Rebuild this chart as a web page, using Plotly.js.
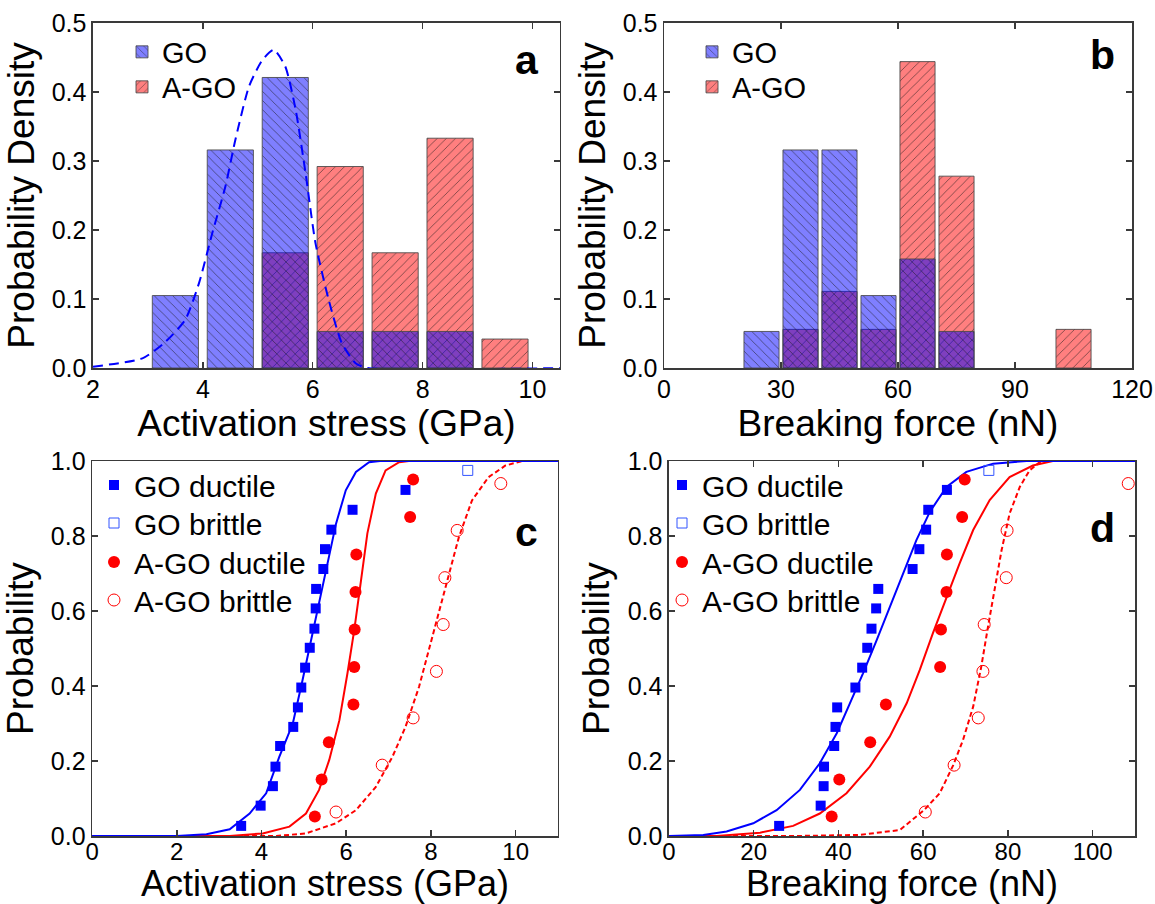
<!DOCTYPE html>
<html>
<head>
<meta charset="utf-8">
<script src="https://cdn.plot.ly/plotly-3.0.1.min.js"></script>
<style>html,body{margin:0;padding:0;background:#fff;}#chart{width:1155px;height:904px;}</style>
</head>
<body>
<div id="chart"></div>
<script>
// ---------- Panel a: histogram of activation stress ----------
const aGO_x = [3.5, 4.5, 5.5, 6.5, 7.5, 8.5];
const aGO_y = [0.105, 0.316, 0.421, 0.053, 0.053, 0.053];
const aAGO_x = [5.5, 6.5, 7.5, 8.5, 9.5];
const aAGO_y = [0.167, 0.292, 0.167, 0.333, 0.042];
const aFit_x = [2.0, 2.90, 3.32, 3.68, 3.93, 4.17, 4.41, 4.59, 4.84, 5.08, 5.29, 5.50, 5.69, 5.87, 6.05, 6.29, 6.53, 6.78, 7.0, 10.5];
const aFit_y = [0.002, 0.014, 0.038, 0.070, 0.123, 0.195, 0.263, 0.330, 0.408, 0.446, 0.461, 0.437, 0.374, 0.282, 0.181, 0.099, 0.036, 0.007, 0, 0];

// ---------- Panel b: histogram of breaking force ----------
const bGO_x = [25, 35, 45, 55, 65, 75];
const bGO_y = [0.053, 0.316, 0.316, 0.105, 0.158, 0.053];
const bAGO_x = [35, 45, 55, 65, 75, 105];
const bAGO_y = [0.056, 0.111, 0.056, 0.444, 0.278, 0.056];

// ---------- Panel c: cumulative probability vs activation stress ----------
const probGO = [0.027, 0.081, 0.133, 0.185, 0.240, 0.291, 0.343, 0.396, 0.449, 0.502, 0.553, 0.607, 0.659, 0.712, 0.765, 0.817, 0.870, 0.923];
const probGOb = [0.975];
const probAGO = [0.052, 0.151, 0.250, 0.351, 0.451, 0.551, 0.651, 0.751, 0.851, 0.951];
const probAGOb = [0.064, 0.189, 0.315, 0.439, 0.564, 0.689, 0.815, 0.940];

const cGOd_x = [3.52, 3.98, 4.27, 4.33, 4.44, 4.75, 4.86, 4.94, 5.03, 5.14, 5.25, 5.28, 5.29, 5.46, 5.50, 5.65, 6.15, 7.40];
const cGOb_x = [8.87];
const cAGOd_x = [5.26, 5.42, 5.59, 6.17, 6.19, 6.20, 6.22, 6.24, 7.51, 7.58];
const cAGOb_x = [5.76, 6.85, 7.58, 8.13, 8.29, 8.33, 8.62, 9.65];

const cFitGO_x = [0, 2.0, 2.70, 3.25, 3.72, 4.11, 4.42, 4.74, 4.97, 5.17, 5.36, 5.56, 5.76, 5.99, 6.23, 6.54, 6.8, 11];
const cFitGO_y = [0, 0, 0.005, 0.018, 0.060, 0.114, 0.211, 0.300, 0.416, 0.522, 0.629, 0.735, 0.833, 0.922, 0.971, 0.997, 1, 1];
const cFitAGO_x = [0, 3.25, 4.03, 4.66, 5.05, 5.36, 5.60, 5.84, 6.03, 6.19, 6.35, 6.50, 6.70, 6.93, 7.25, 7.48, 11];
const cFitAGO_y = [0, 0, 0.007, 0.025, 0.060, 0.123, 0.203, 0.309, 0.434, 0.549, 0.682, 0.807, 0.913, 0.975, 0.997, 1, 1];
const cFitAGOb_x = [0, 4.35, 5.05, 5.76, 6.23, 6.70, 7.09, 7.40, 7.72, 8.03, 8.35, 8.66, 8.97, 9.36, 9.76, 10.15, 11];
const cFitAGOb_y = [0, 0, 0.007, 0.034, 0.069, 0.131, 0.211, 0.291, 0.398, 0.531, 0.664, 0.797, 0.895, 0.957, 0.988, 1, 1];

// ---------- Panel d: cumulative probability vs breaking force ----------
const dGOd_x = [26.0, 35.8, 36.5, 36.6, 39.0, 39.3, 39.7, 44.0, 45.6, 46.8, 47.8, 48.9, 49.4, 57.5, 59.1, 60.7, 61.2, 65.6];
const dGOb_x = [75.5];
const dAGOd_x = [38.4, 40.2, 47.5, 51.2, 64.0, 64.2, 65.5, 65.6, 69.2, 69.8];
const dAGOb_x = [60.5, 67.3, 73.0, 74.1, 74.4, 79.6, 79.8, 108.4];

const dFitGO_x = [0, 5, 8.1, 13.6, 19.9, 25.4, 30.9, 35.6, 39.6, 42.7, 45.8, 49.0, 52.1, 55.3, 58.4, 61.6, 65.5, 70.2, 76.5, 84.4, 110];
const dFitGO_y = [0, 0.001, 0.003, 0.012, 0.034, 0.069, 0.123, 0.194, 0.274, 0.354, 0.434, 0.522, 0.611, 0.700, 0.789, 0.865, 0.931, 0.971, 0.993, 1, 1];
const dFitAGO_x = [0, 11.2, 21.5, 29.3, 35.6, 41.9, 47.4, 52.1, 56.1, 59.2, 62.3, 65.5, 68.6, 71.8, 75.7, 80.4, 85.9, 90.6, 110];
const dFitAGO_y = [0, 0, 0.009, 0.027, 0.060, 0.114, 0.185, 0.265, 0.354, 0.443, 0.541, 0.638, 0.727, 0.816, 0.896, 0.957, 0.988, 1, 1];
const dFitAGOb_x = [0, 30, 45.0, 54.5, 60.2, 63.9, 67.1, 69.4, 71.8, 73.7, 75.3, 76.9, 78.5, 80.4, 82.8, 85.1, 87.5, 89.1, 110];
const dFitAGOb_y = [0, 0, 0.003, 0.016, 0.069, 0.114, 0.189, 0.256, 0.345, 0.451, 0.558, 0.665, 0.762, 0.860, 0.931, 0.975, 0.997, 1, 1];

// ---------- styles ----------
const FONT = 'Liberation Sans, Arial, Helvetica, sans-serif';
const BLUE = '#0000ff', RED = '#ff0000';
const goFill = 'rgba(0,0,255,0.5)', agoFill = 'rgba(255,0,0,0.5)';
const barLine = {color: 'rgba(70,70,70,0.85)', width: 1};
function pat(shape, bg) {
  return {shape: shape, fillmode: 'replace', bgcolor: bg, fgcolor: '#1a1a1a', fgopacity: 0.6, size: 6.5, solidity: 0.13};
}

function bars(x, y, name, fill, shape, width, xa, ya, leg) {
  return {type: 'bar', x: x, y: y, width: width, name: name, xaxis: xa, yaxis: ya, legend: leg,
    marker: {color: fill, line: barLine, pattern: pat(shape, fill)}, hoverinfo: 'skip'};
}
function line(x, y, color, dash, xa, ya, extra) {
  return {type: 'scatter', mode: 'lines', x: x, y: y, xaxis: xa, yaxis: ya, showlegend: false,
    line: Object.assign({color: color, width: 2, dash: dash}, extra || {}), hoverinfo: 'skip'};
}
function pts(x, y, name, symbol, color, size, xa, ya, leg, lw) {
  return {type: 'scatter', mode: 'markers', x: x, y: y, name: name, xaxis: xa, yaxis: ya, legend: leg,
    marker: {symbol: symbol, color: color, size: size, line: {color: color, width: lw}}, hoverinfo: 'skip'};
}

const data = [
  // panel a
  bars(aAGO_x, aAGO_y, 'A-GO', agoFill, '/', 0.84, 'x', 'y', 'legend2'),
  bars(aGO_x, aGO_y, 'GO', goFill, '\\', 0.84, 'x', 'y', 'legend'),
  line(aFit_x, aFit_y, BLUE, '10px,6px', 'x', 'y', {shape: 'spline', smoothing: 0.6}),
  // panel b
  bars(bAGO_x, bAGO_y, 'A-GO', agoFill, '/', 9, 'x2', 'y2', 'legend4'),
  bars(bGO_x, bGO_y, 'GO', goFill, '\\', 9, 'x2', 'y2', 'legend3'),
  // panel c
  line(cFitAGOb_x, cFitAGOb_y, RED, '5px,3px', 'x3', 'y3'),
  line(cFitAGO_x, cFitAGO_y, RED, 'solid', 'x3', 'y3'),
  line(cFitGO_x, cFitGO_y, BLUE, 'solid', 'x3', 'y3'),
  pts(cGOd_x, probGO, 'GO ductile', 'square', BLUE, 10, 'x3', 'y3', 'legend5', 0),
  pts(cGOb_x, probGOb, 'GO brittle', 'square-open', '#3355ff', 10, 'x3', 'y3', 'legend6', 1),
  pts(cAGOd_x, probAGO, 'A-GO ductile', 'circle', RED, 12, 'x3', 'y3', 'legend7', 0),
  pts(cAGOb_x, probAGOb, 'A-GO brittle', 'circle-open', RED, 12, 'x3', 'y3', 'legend8', 1),
  // panel d
  line(dFitAGOb_x, dFitAGOb_y, RED, '5px,3px', 'x4', 'y4'),
  line(dFitAGO_x, dFitAGO_y, RED, 'solid', 'x4', 'y4'),
  line(dFitGO_x, dFitGO_y, BLUE, 'solid', 'x4', 'y4'),
  pts(dGOd_x, probGO, 'GO ductile', 'square', BLUE, 10, 'x4', 'y4', 'legend9', 0),
  pts(dGOb_x, probGOb, 'GO brittle', 'square-open', '#3355ff', 10, 'x4', 'y4', 'legend10', 1),
  pts(dAGOd_x, probAGO, 'A-GO ductile', 'circle', RED, 12, 'x4', 'y4', 'legend11', 0),
  pts(dAGOb_x, probAGOb, 'A-GO brittle', 'circle-open', RED, 12, 'x4', 'y4', 'legend12', 1)
];

const AX = '#3a3a3a';
function xax(domain, range, dtick, anchor, title, mirror, standoff, tls, tsize, ttsize) {
  return {domain: domain, range: range, dtick: dtick, tick0: 0, anchor: anchor,
    ticks: 'inside', ticklen: 6, tickwidth: 1.5, tickcolor: AX, mirror: mirror,
    showline: true, linecolor: AX, linewidth: 1.5, showgrid: false, zeroline: false,
    ticklabelstandoff: tls,
    tickfont: {family: FONT, size: tsize, color: '#000'},
    title: {text: title, font: {family: FONT, size: ttsize, color: '#000'}, standoff: standoff}};
}
function yax(domain, range, dtick, anchor, title, mirror) {
  return {domain: domain, range: range, dtick: dtick, tick0: 0, anchor: anchor, tickformat: '.1f',
    ticks: 'inside', ticklen: 6, tickwidth: 1.5, tickcolor: AX, mirror: mirror,
    showline: true, linecolor: AX, linewidth: 1.5, showgrid: false, zeroline: false,
    tickfont: {family: FONT, size: 25, color: '#000'},
    title: {text: title, font: {family: FONT, size: 37, color: '#000'}, standoff: 6}};
}
// one legend box per entry, placed where the reference shows it (px from top-left)
function leg(px, py, size) {
  return {x: px / 1155, y: 1 - py / 904, xref: 'paper', yref: 'paper', xanchor: 'left', yanchor: 'middle',
    bgcolor: 'rgba(0,0,0,0)', font: {family: FONT, size: size, color: '#000'}};
}
function letter(txt, xref, yref, x, y) {
  return {text: '<b>' + txt + '</b>', xref: xref, yref: yref, x: x, y: y, xanchor: 'center', yanchor: 'middle',
    showarrow: false, font: {family: FONT, size: 41, color: '#000'}};
}

const layout = {
  width: 1155, height: 904,
  margin: {l: 0, r: 0, t: 0, b: 0},
  paper_bgcolor: '#fff', plot_bgcolor: '#fff',
  barmode: 'overlay', bargap: 0,
  font: {family: FONT, color: '#000'},
  xaxis: xax([0.0805, 0.4848], [2, 10.5], 2, 'y', 'Activation stress (GPa)', 'ticks', 0, -2, 25, 37),
  yaxis: yax([0.5929, 0.9746], [0, 0.5], 0.1, 'x', 'Probability Density', 'ticks'),
  xaxis2: xax([0.5749, 0.9801], [0, 120], 30, 'y2', 'Breaking force (nN)', 'ticks', 0, -2, 25, 37),
  yaxis2: yax([0.5929, 0.9746], [0, 0.5], 0.1, 'x2', 'Probability Density', 'ticks'),
  xaxis3: xax([0.0797, 0.4831], [0, 11], 2, 'y3', 'Activation stress (GPa)', true, 5, -6, 24, 36),
  yaxis3: yax([0.0752, 0.4900], [0, 1], 0.2, 'x3', 'Probability', true),
  xaxis4: xax([0.5792, 0.9827], [0, 110], 20, 'y4', 'Breaking force (nN)', 'ticks', 5, -6, 24, 36),
  yaxis4: yax([0.0752, 0.4900], [0, 1], 0.2, 'x4', 'Probability', 'ticks'),
  xaxis5: {overlaying: 'x3', anchor: 'y3', side: 'top', range: [0, 11], tick0: 0, dtick: 1,
    ticks: 'inside', ticklen: 6, tickwidth: 1.5, tickcolor: AX, showticklabels: false,
    showline: false, showgrid: false, zeroline: false},
  yaxis5: {overlaying: 'y3', anchor: 'x3', side: 'right', range: [0, 1], tick0: 0, dtick: 0.1,
    ticks: 'inside', ticklen: 6, tickwidth: 1.5, tickcolor: AX, showticklabels: false,
    showline: false, showgrid: false, zeroline: false},
  legend: leg(122, 52, 29),
  legend2: leg(122, 87, 29),
  legend3: leg(692, 52, 29),
  legend4: leg(692, 87, 29),
  legend5: leg(94, 485, 30),
  legend6: leg(94, 523, 30),
  legend7: leg(94, 562, 30),
  legend8: leg(94, 600, 30),
  legend9: leg(662, 485, 30),
  legend10: leg(662, 523, 30),
  legend11: leg(662, 562, 30),
  legend12: leg(662, 600, 30),
  annotations: [
    letter('a', 'x domain', 'y domain', 0.929, 0.893),
    letter('b', 'x2 domain', 'y2 domain', 0.936, 0.907),
    letter('c', 'x3 domain', 'y3 domain', 0.933, 0.811),
    letter('d', 'x4 domain', 'y4 domain', 0.931, 0.821)
  ]
};

Plotly.newPlot('chart', data, layout, {displayModeBar: false, staticPlot: true});
</script>
</body>
</html>
